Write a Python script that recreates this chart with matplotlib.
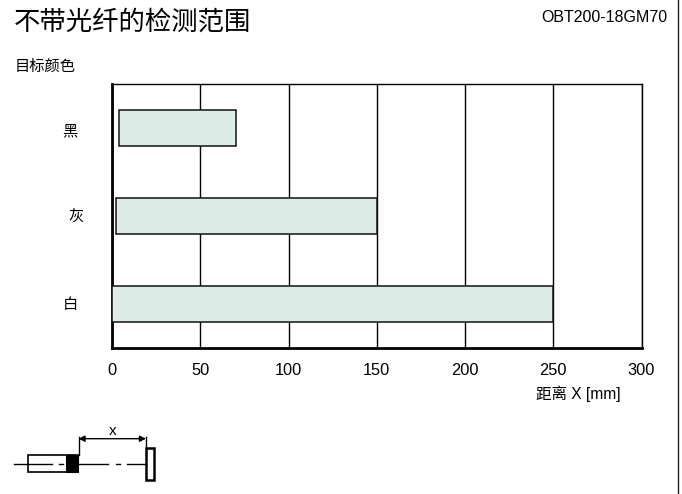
import matplotlib
matplotlib.use('Agg')
import matplotlib.pyplot as plt
from matplotlib.patches import Rectangle

plt.rcParams['font.family'] = ['Liberation Sans', 'Noto Sans CJK SC', 'DejaVu Sans']

W, H = 682, 494

# Data
colors = ['白', '灰', '黑']
range_start = [0, 2, 3.7]
range_end = [250, 150, 70]
xticks = [0, 50, 100, 150, 200, 250, 300]

BAR_COLOR = '#dcebe6'

fig = plt.figure(figsize=(W / 100, H / 100), dpi=100, facecolor='white')

# main chart
ax = fig.add_axes([112 / W, 1 - 348 / H, (641.5 - 112) / W, (348 - 84) / H])
ax.set_xlim(0, 300)
ax.set_ylim(-0.5, 2.5)
widths = [e - s for s, e in zip(range_start, range_end)]
ax.barh(range(3), widths, left=range_start, height=0.4, color=BAR_COLOR,
        edgecolor='#111111', linewidth=1.1, zorder=3)
ax.set_xticks(xticks)
ax.set_yticks([])
ax.tick_params(axis='x', length=0, pad=11, labelsize=11.8)
ax.grid(axis='x', color='black', linewidth=1.0, zorder=1)
for s in ['top', 'right']:
    ax.spines[s].set_linewidth(1.0)
for s in ['left', 'bottom']:
    ax.spines[s].set_linewidth(2.0)

# Overlay in pixel coordinates for text and the sensor sketch
ov = fig.add_axes([0, 0, 1, 1], facecolor='none')
ov.set_xlim(0, W)
ov.set_ylim(H, 0)
ov.axis('off')

ov.text(14, 22, '不带光纤的检测范围', fontsize=19, va='center', ha='left')
ov.text(667, 18, 'OBT200-18GM70', fontsize=11.5, va='center', ha='right')
ov.text(15, 67, '目标颜色', fontsize=11, va='center', ha='left')
ov.text(69.5, 131, colors[2], fontsize=11, va='center', ha='center')
ov.text(76, 218, colors[1], fontsize=11, va='center', ha='center')
ov.text(70, 305, colors[0], fontsize=11, va='center', ha='center')
ov.text(578.5, 394, '距离 X [mm]', fontsize=11.2, va='center', ha='center')

# frame line on the right
ov.plot([677.5, 677.5], [0, H], color='#222222', lw=1.0)

# sensor sketch
cy = 463.7
ov.plot([14, 52], [cy, cy], color='black', lw=1.0)
ov.plot([59, 63], [cy, cy], color='black', lw=1.0)
ov.plot([78, 108], [cy, cy], color='black', lw=1.0)
ov.plot([116, 120], [cy, cy], color='black', lw=1.0)
ov.plot([127, 146], [cy, cy], color='black', lw=1.0)
ov.add_patch(Rectangle((28, 455), 50, 17, fc='none', ec='black', lw=1.2))
ov.add_patch(Rectangle((66, 455), 12, 17, fc='black', ec='black', lw=0.8))
ov.add_patch(Rectangle((146, 447.5), 8, 32.5, fc='white', ec='black', lw=1.8))
ov.plot([78.5, 78.5], [437, 455], color='black', lw=1.0)
ov.plot([146, 146], [437, 447], color='black', lw=1.0)
ov.annotate('', xy=(78.5, 438.7), xytext=(146, 438.7),
            arrowprops=dict(arrowstyle='<|-|>', color='black', lw=1.0, mutation_scale=9,
                            shrinkA=0, shrinkB=0))
ov.text(113, 431, 'x', fontsize=11, va='center', ha='center')

fig.savefig('out.png', dpi=100)
